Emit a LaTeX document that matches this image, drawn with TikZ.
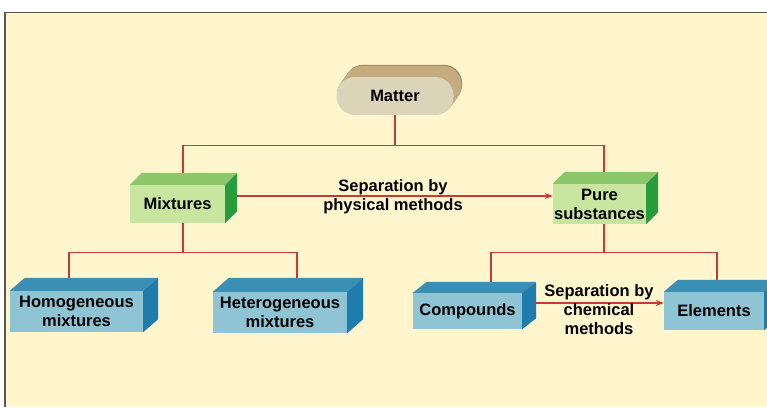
\documentclass[tikz,border=0pt]{standalone}
\usepackage{fontspec}
\setmainfont{Liberation Sans}
\usetikzlibrary{arrows.meta,calc}
\pgfdeclarelayer{bg}
\pgfdeclarelayer{lines}
\pgfsetlayers{bg,lines,main}
\definecolor{paper}{RGB}{255,246,205}
\definecolor{frame}{RGB}{85,85,85}
\definecolor{linkred}{RGB}{205,55,55}
\definecolor{gfront}{RGB}{200,230,160}
\definecolor{gtop}{RGB}{140,200,105}
\definecolor{gside}{RGB}{40,155,60}
\definecolor{bfront}{RGB}{142,196,212}
\definecolor{btop}{RGB}{58,143,181}
\definecolor{bside}{RGB}{30,125,172}
\definecolor{mfront}{RGB}{220,212,184}
\definecolor{mtop}{RGB}{196,172,128}
\definecolor{mrim}{RGB}{160,132,90}
\begin{document}
\begin{tikzpicture}[x=1pt,y=-1pt,
  txt/.style={font=\fontsize{16.5}{19}\selectfont\bfseries, align=center, text=black},
  gbox/.style={txt, fill=gfront, inner sep=0pt},
  bbox/.style={txt, fill=bfront, inner sep=0pt},
  lbl/.style={txt, inner sep=0pt},
  link/.style={draw=linkred, line width=1.2pt},
  tip/.style={-{Stealth[length=8pt,width=6pt]}, linkred}
]
\useasboundingbox (0,0) rectangle (767,407);
\begin{pgfonlayer}{bg}
  \fill[paper] (5,12.5) rectangle (767,407);
  \draw[frame, line width=1.5pt] (5,407) -- (5,12.5) -- (767,12.5);
\end{pgfonlayer}

% nodes
\node[txt, fill=mfront, rounded corners=18.5pt, minimum width=117pt, minimum height=38pt, inner sep=0pt] (matter) at (395,96) {Matter};
\node[gbox, minimum width=95pt, minimum height=38pt] (mix) at (177.5,204) {Mixtures};
\node[gbox, minimum width=93pt, minimum height=40pt] (pure) at (599.5,204) {Pure\\substances};
\node[bbox, minimum width=133pt, minimum height=41pt] (homo) at (76.5,311.5) {Homogeneous\\mixtures};
\node[bbox, minimum width=134pt, minimum height=41pt] (hetero) at (280,312.5) {Heterogeneous\\mixtures};
\node[bbox, minimum width=109pt, minimum height=36pt] (comp) at (467.5,311) {Compounds};
\node[bbox, minimum width=100pt, minimum height=38pt] (elem) at (714,311) {Elements};

% Matter extrusion
\begin{pgfonlayer}{lines}
  \foreach \i in {12,11,...,1} {
    \ifnum\i=12 \def\mc{mrim}\else\def\mc{mtop}\fi
    \fill[\mc, rounded corners=18.5pt] ($(matter.south west)+(\i*0.7,-\i)$) rectangle ($(matter.north east)+(\i*0.7,-\i)$);
  }
\end{pgfonlayer}

% connectors
\begin{pgfonlayer}{lines}
  \draw[link] (matter.south) -- ++(0,30) -| ([xshift=5.5pt]mix.north);
  \draw[link] (matter.south) -- ++(0,30) -| ([xshift=4.5pt]pure.north);
  \draw[link] ([xshift=5.5pt]mix.south) -- ++(0,29) -| ([xshift=-7.5pt]homo.north);
  \draw[link] ([xshift=5.5pt]mix.south) -- ++(0,29) -| ([xshift=17pt]hetero.north);
  \draw[link] ([xshift=4.5pt]pure.south) -- ++(0,28) -| ([xshift=23.5pt]comp.north);
  \draw[link] ([xshift=4.5pt]pure.south) -- ++(0,28) -| ([xshift=3pt]elem.north);
  \draw[link, tip] ([yshift=8pt]mix.east) -- ([yshift=8pt]pure.west);
  \draw[link, tip] ([yshift=8pt]comp.east) -- ([yshift=8pt]elem.west);
\end{pgfonlayer}

% 3D faces
\foreach \n/\dx/\dy/\t/\s in {mix/12/12/gtop/gside, pure/12/12/gtop/gside,
  homo/15/13/btop/bside, hetero/16/14/btop/bside, comp/14/11/btop/bside, elem/14/12/btop/bside} {
  \fill[\t] (\n.north west) -- ++(\dx,-\dy) -- ($(\n.north east)+(\dx,-\dy)$) -- (\n.north east) -- cycle;
  \fill[\s] (\n.north east) -- ++(\dx,-\dy) -- ($(\n.south east)+(\dx,-\dy)$) -- (\n.south east) -- cycle;
}

% labels
\node[lbl] (physlbl) at (393,197) {Separation by\\physical methods};
\node[lbl] (chemlbl) at (599,310) {Separation by\\chemical\\methods};
\end{tikzpicture}
\end{document}
